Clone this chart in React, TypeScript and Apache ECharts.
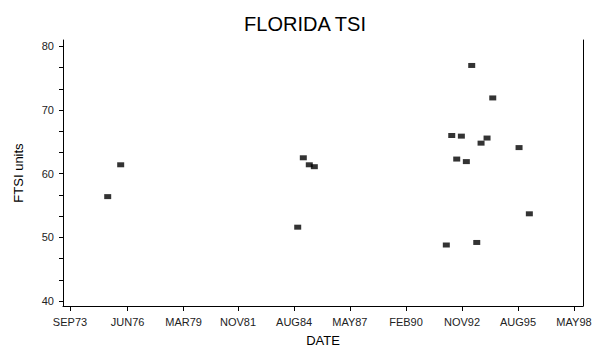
import React, { useEffect, useRef } from "react";
import * as echarts from "echarts";

// Sample dates and FTSI values
const sampleDates = [
  "1975-07-07", "1976-02-24",
  "1984-10-23", "1985-01-31", "1985-05-18", "1985-08-16",
  "1992-01-31", "1992-05-07", "1992-08-04", "1992-10-26", "1993-01-23",
  "1993-04-29", "1993-07-28", "1993-10-13", "1994-01-28", "1994-05-10",
  "1995-08-23", "1996-02-23",
];
const ftsiValues = [
  56.4, 61.4,
  51.6, 62.5, 61.4, 61.1,
  48.8, 66.0, 62.3, 65.9, 61.9,
  77.0, 49.2, 64.8, 65.6, 71.9,
  64.1, 53.7,
];

// X tick positions (every ~1001 days) and labels
const xTickDates = [
  "1973-09-01", "1976-06-28", "1979-03-25", "1981-11-22", "1984-08-19",
  "1987-05-13", "1990-02-10", "1992-11-07", "1995-08-04", "1998-05-01",
];
const xTickLabels = [
  "SEP73", "JUN76", "MAR79", "NOV81", "AUG84",
  "MAY87", "FEB90", "NOV92", "AUG95", "MAY98",
];
const xAxisStart = "1973-04-29";
const xAxisEnd = "1998-10-09";

// Y ticks
const yMajorTicks = [40, 50, 60, 70, 80];
const yMinorTicks = [43.33, 46.67, 53.33, 56.67, 63.33, 66.67, 73.33, 76.67];
const yMin = 39.22;
const yMax = 81.0;

const FONT = "'Liberation Sans', Arial, sans-serif";
const DAY = 86400000;
const toDay = (s: string) => Math.round(Date.parse(s) / DAY);

export default function App() {
  const ref = useRef<HTMLDivElement>(null);
  useEffect(() => {
    if (!ref.current) return;
    const chart = echarts.init(ref.current, null, { renderer: "svg" });
    const tickDays = xTickDates.map(toDay);
    const data = sampleDates.map((d, i) => [toDay(d), ftsiValues[i]]);
    chart.setOption({
      animation: false,
      backgroundColor: "#fff",
      title: {
        text: "FLORIDA TSI",
        left: 300,
        textAlign: "center",
        top: 9,
        textStyle: { fontFamily: FONT, fontSize: 20, fontWeight: "normal", color: "#000" },
      },
      grid: { left: 63, right: 25, top: 40, bottom: 43 },
      xAxis: {
        type: "value",
        min: toDay(xAxisStart),
        max: toDay(xAxisEnd),
        name: "DATE",
        nameLocation: "middle",
        nameGap: 28,
        nameTextStyle: { fontFamily: FONT, fontSize: 13, color: "#000" },
        axisLine: { show: true, lineStyle: { color: "#000", width: 1 } },
        axisTick: { show: true, inside: false, length: 5, customValues: tickDays, lineStyle: { color: "#000" } },
        axisLabel: {
          customValues: tickDays,
          margin: 10,
          fontFamily: FONT,
          fontSize: 11,
          color: "#222",
          hideOverlap: false,
          formatter: (v: number) => {
            let best = 0;
            let bd = Infinity;
            tickDays.forEach((t, i) => {
              const d = Math.abs(t - v);
              if (d < bd) { bd = d; best = i; }
            });
            return xTickLabels[best];
          },
        },
        splitLine: { show: false },
      },
      yAxis: [
        {
          type: "value",
          min: yMin,
          max: yMax,
          name: "FTSI units",
          nameLocation: "middle",
          nameGap: 38,
          nameRotate: 90,
          nameTextStyle: { fontFamily: FONT, fontSize: 13, color: "#000" },
          axisLine: { show: true, lineStyle: { color: "#000", width: 1 } },
          axisTick: {
            show: true,
            length: 4,
            customValues: [...yMajorTicks, ...yMinorTicks],
            lineStyle: { color: "#000" },
          },
          axisLabel: {
            customValues: yMajorTicks,
            margin: 9,
            fontFamily: FONT,
            fontSize: 11,
            color: "#222",
          },
          splitLine: { show: false },
        },
        {
          type: "value",
          min: yMin,
          max: yMax,
          position: "right",
          axisLine: { show: true, lineStyle: { color: "#000", width: 1 } },
          axisTick: { show: false },
          axisLabel: { show: false },
          splitLine: { show: false },
        },
      ],
      series: [
        {
          type: "scatter",
          yAxisIndex: 0,
          data,
          symbol: "rect",
          symbolSize: [7, 5],
          itemStyle: { color: "#000" },
        },
      ],
    });
    return () => chart.dispose();
  }, []);
  return (
    <div
      ref={ref}
      style={{ position: "fixed", left: 0, top: 0, width: 608, height: 352 }}
    />
  );
}
